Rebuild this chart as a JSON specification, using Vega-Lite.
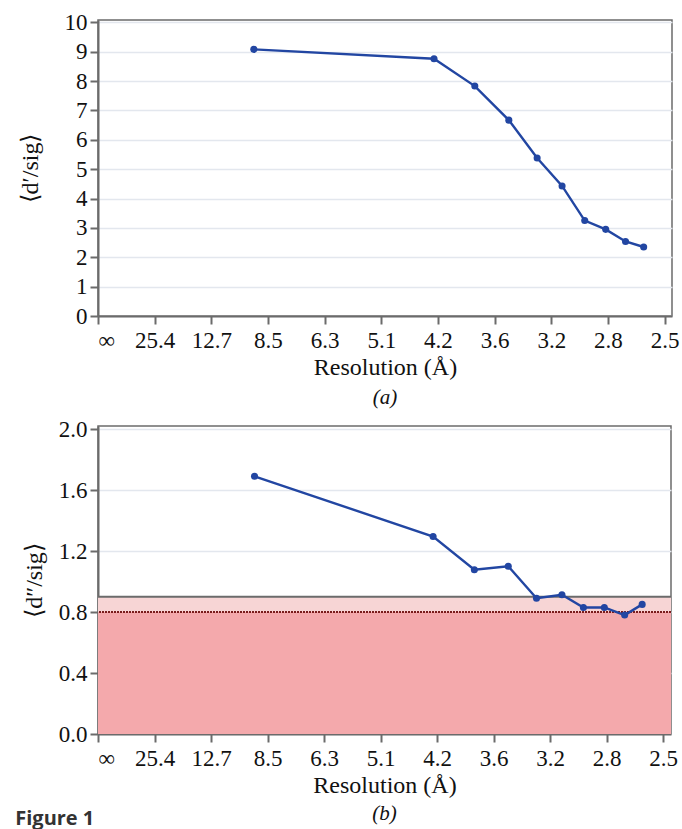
{
  "$schema": "https://vega.github.io/schema/vega-lite/v6.json",
  "padding": {"left": 15, "top": 10, "right": 0, "bottom": 0},
  "background": "white",
  "bounds": "flush",
  "spacing": 110,
  "config": {
    "font": "Liberation Serif",
    "view": {"stroke": "#6b6b6b", "strokeWidth": 1.5},
    "axis": {
      "labelFont": "Liberation Serif", "labelFontSize": 23, "labelColor": "#111",
      "titleFont": "Liberation Serif", "titleFontSize": 24, "titleFontWeight": "normal", "titleColor": "#111",
      "domainColor": "#6b6b6b", "domainWidth": 2, "tickColor": "#6b6b6b", "tickWidth": 2, "tickSize": 8,
      "gridColor": "#e3e7ee", "gridWidth": 1.5
    },
    "title": {"font": "Liberation Serif", "fontSize": 21, "fontWeight": "normal", "color": "#111"}
  },
  "title": {"text": "Figure 1", "orient": "bottom", "anchor": "start", "offset": -16, "dx": -2, "font": "Open Sans", "fontWeight": "bold", "fontSize": 20, "color": "#333"},
  "datasets": {
    "a": [
      {"s": 2.75, "v": 9.08}, {"s": 5.93, "v": 8.76}, {"s": 6.65, "v": 7.83}, {"s": 7.25, "v": 6.67},
      {"s": 7.75, "v": 5.38}, {"s": 8.19, "v": 4.43}, {"s": 8.59, "v": 3.25}, {"s": 8.96, "v": 2.95},
      {"s": 9.31, "v": 2.54}, {"s": 9.63, "v": 2.35}
    ],
    "b": [
      {"s": 2.77, "v": 1.69}, {"s": 5.93, "v": 1.295}, {"s": 6.66, "v": 1.077}, {"s": 7.26, "v": 1.10},
      {"s": 7.76, "v": 0.89}, {"s": 8.21, "v": 0.913}, {"s": 8.59, "v": 0.83}, {"s": 8.96, "v": 0.83},
      {"s": 9.32, "v": 0.78}, {"s": 9.63, "v": 0.85}
    ],
    "bands": [
      {"lo": 0, "hi": 0.8, "zone": "below"},
      {"lo": 0.8, "hi": 0.9, "zone": "marginal"}
    ],
    "rules": [
      {"y": 0.9, "kind": "upper"},
      {"y": 0.8, "kind": "lower"}
    ]
  },
  "vconcat": [
    {
      "width": 574, "height": 296,
      "title": {"text": "(a)", "orient": "bottom", "fontStyle": "italic", "offset": 8},
      "data": {"name": "a"},
      "encoding": {
        "x": {"field": "s", "type": "quantitative",
          "scale": {"domain": [0, 10.13], "nice": false, "zero": false},
          "axis": {"title": "Resolution (Å)", "values": [0,1,2,3,4,5,6,7,8,9,10],
            "labelExpr": "['∞','25.4','12.7','8.5','6.3','5.1','4.2','3.6','3.2','2.8','2.5'][datum.value]",
            "grid": false, "labelPadding": 5, "titlePadding": 3}},
        "y": {"field": "v", "type": "quantitative",
          "scale": {"domain": [0, 10.08], "nice": false},
          "axis": {"title": "⟨d′/sig⟩", "values": [0,1,2,3,4,5,6,7,8,9,10], "grid": true, "labelPadding": 3, "titlePadding": 22}}
      },
      "layer": [
        {"mark": {"type": "line", "color": "#2246a2", "strokeWidth": 2.4}},
        {"mark": {"type": "point", "filled": true, "color": "#2246a2", "size": 50, "opacity": 1}}
      ]
    },
    {
      "width": 573, "height": 308,
      "title": {"text": "(b)", "orient": "bottom", "fontStyle": "italic", "offset": 6},
      "resolve": {"scale": {"color": "independent", "strokeDash": "independent"}},
      "layer": [
        {
          "data": {"name": "bands"},
          "mark": {"type": "rect"},
          "encoding": {
            "y": {"field": "lo", "type": "quantitative", "scale": {"domain": [0, 2.02], "nice": false}},
            "y2": {"field": "hi"},
            "color": {"field": "zone", "type": "nominal", "scale": {"domain": ["below", "marginal"], "range": ["#f4a9ac", "#f7d5d5"]}, "legend": null}
          }
        },
        {
          "data": {"name": "rules"},
          "mark": {"type": "rule"},
          "encoding": {
            "y": {"field": "y", "type": "quantitative"},
            "color": {"field": "kind", "type": "nominal", "scale": {"domain": ["upper", "lower"], "range": ["#6b6b6b", "#7a1c1c"]}, "legend": null},
            "strokeDash": {"field": "kind", "type": "nominal", "scale": {"domain": ["upper", "lower"], "range": [[1, 0], [2, 1]]}, "legend": null},
            "strokeWidth": {"value": 2}
          }
        },
        {
          "data": {"name": "b"},
          "mark": {"type": "line", "color": "#2246a2", "strokeWidth": 2.4},
          "encoding": {
            "x": {"field": "s", "type": "quantitative",
              "scale": {"domain": [0, 10.14], "nice": false, "zero": false},
              "axis": {"title": "Resolution (Å)", "values": [0,1,2,3,4,5,6,7,8,9,10],
                "labelExpr": "['∞','25.4','12.7','8.5','6.3','5.1','4.2','3.6','3.2','2.8','2.5'][datum.value]",
                "grid": false, "labelPadding": 5, "titlePadding": 3}},
            "y": {"field": "v", "type": "quantitative",
              "axis": {"title": "⟨d″/sig⟩", "values": [0, 0.4, 0.8, 1.2, 1.6, 2.0], "format": ".1f", "grid": true, "labelPadding": 3, "titlePadding": 12}}
          }
        },
        {
          "data": {"name": "b"},
          "mark": {"type": "point", "filled": true, "color": "#2246a2", "size": 50, "opacity": 1},
          "encoding": {
            "x": {"field": "s", "type": "quantitative"},
            "y": {"field": "v", "type": "quantitative"}
          }
        }
      ]
    }
  ]
}
